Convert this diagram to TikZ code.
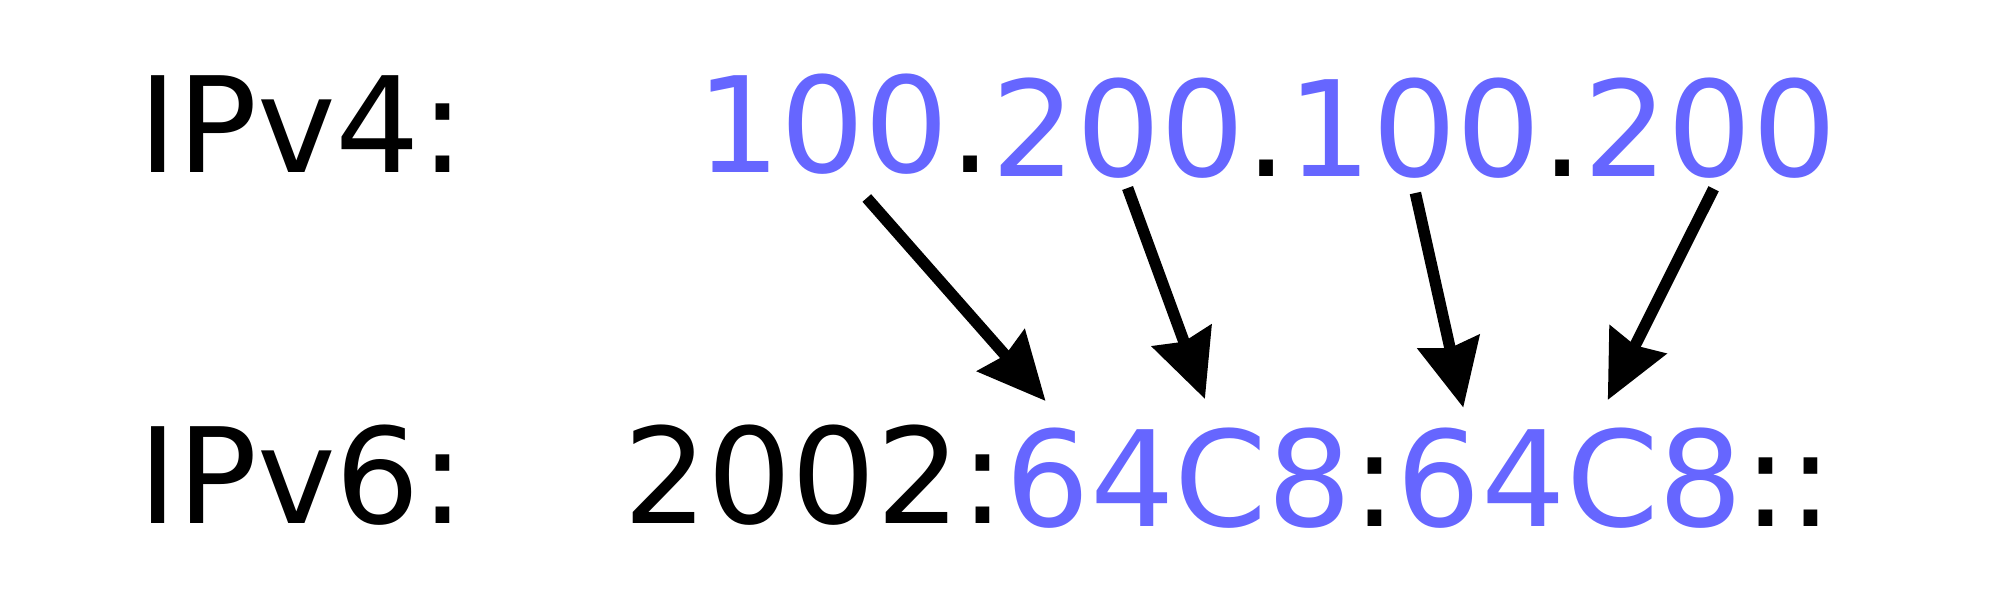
\documentclass[tikz,border=0pt]{standalone}
\usepackage{fontspec}
\setmainfont{DejaVu Sans}
\usetikzlibrary{arrows.meta}
\definecolor{ipblue}{HTML}{6666FF}
\begin{document}
\begin{tikzpicture}[
  txt/.style={inner sep=0pt, outer sep=0pt, anchor=base west, font=\fontsize{37.8pt}{45pt}\selectfont},
  num/.style={txt, text=ipblue},
  arr/.style={line width=0.115cm, -{Stealth[length=0.67cm,width=0.62cm,inset=0.06cm]}}
]
\useasboundingbox (0,0) rectangle (20,-6);
% labels
\node[txt] (l4) at (1.38,-1.72) {IPv4:};
\node[txt] (l6) at (1.38,-5.235) {IPv6:};
% IPv4 address
\node[num] (a1) at (6.96,-1.725) {100};
\node[txt] (p1) at (a1.base east) {.};
\node[num] (a2) at ([yshift=-0.04cm]p1.base east) {200};
\node[txt] (p2) at (a2.base east) {.};
\node[num] (a3) at (p2.base east) {100};
\node[txt] (p3) at (a3.base east) {.};
\node[num] (a4) at (p3.base east) {200};
% IPv6 address
\node[txt] (pre) at (6.23,-5.235) {2002:};
\node[num] (h1) at ([yshift=-0.025cm]pre.base east) {64};
\node[num] (h2) at (h1.base east) {C8};
\node[txt] (c1) at (h2.base east) {:};
\node[num] (h3) at (c1.base east) {64};
\node[num] (h4) at (h3.base east) {C8};
\node[txt] (c2) at (h4.base east) {::};
% arrows
\draw[arr] ([shift={(0.44,-0.255)}]a1.base) -- ([shift={(-0.448,1.25)}]h1.base);
\draw[arr] ([shift={(0.09,-0.115)}]a2.base) -- ([shift={(-0.586,1.27)}]h2.base);
\draw[arr] ([shift={(0.01,-0.165)}]a3.base) -- ([shift={(-0.182,1.184)}]h3.base);
\draw[arr] ([shift={(0.034,-0.122)}]a4.base) -- ([shift={(-0.469,1.26)}]h4.base);
\end{tikzpicture}
\end{document}
